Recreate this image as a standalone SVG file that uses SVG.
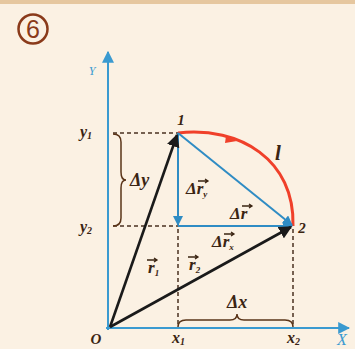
<svg xmlns="http://www.w3.org/2000/svg" width="355" height="349" viewBox="0 0 355 349">
<style>
.lbl{font-family:"Liberation Serif","DejaVu Serif",serif;font-style:italic;font-weight:bold;fill:#3a2412}
.dash{stroke:#4a3020;stroke-width:1.5;stroke-dasharray:4 3;fill:none}
.blue{stroke:#2f8cc4;stroke-width:2;fill:none}
.blk{stroke:#1a1a1a;stroke-width:2.6;fill:none}
.brace{stroke:#5a3418;stroke-width:1.5;fill:none}
.ov{stroke:#3a2412;stroke-width:1.3;fill:none}
</style>
<defs>
<marker id="ab" viewBox="0 0 10 10" refX="9" refY="5" markerWidth="5" markerHeight="5" orient="auto" markerUnits="strokeWidth"><path d="M0,0 L10,5 L0,10 z" fill="#2f8cc4"/></marker>
<marker id="ak" viewBox="0 0 10 10" refX="9" refY="5" markerWidth="5" markerHeight="5" orient="auto" markerUnits="strokeWidth"><path d="M0,0 L10,5 L0,10 z" fill="#1a1a1a"/></marker>
<marker id="ax" viewBox="0 0 10 10" refX="9" refY="5" markerWidth="6" markerHeight="6" orient="auto" markerUnits="strokeWidth"><path d="M0,0 L10,5 L0,10 z" fill="#3a9ad0"/></marker>
</defs>
<rect width="355" height="349" fill="#fbf1e3"/>
<rect width="355" height="4" fill="#e6c79f"/>
<g id="badge">
<circle cx="33" cy="29" r="14.5" fill="none" stroke="#8a3a1a" stroke-width="2.5"/>
<text x="33" y="38" font-family="Liberation Sans,sans-serif" font-size="25" fill="#8a3a1a" text-anchor="middle">6</text>
</g>

<g id="axes">
<line x1="108" y1="330" x2="108" y2="52" stroke="#3a9ad0" stroke-width="2" marker-end="url(#ax)"/>
<line x1="106" y1="328" x2="349" y2="328" stroke="#3a9ad0" stroke-width="2" marker-end="url(#ax)"/>
<text x="92" y="75" font-family="Liberation Serif,serif" font-style="italic" font-size="12" fill="#3a9ad0" text-anchor="middle">Y</text>
<text x="342" y="345" font-family="Liberation Serif,serif" font-style="italic" font-size="16" fill="#3a9ad0" text-anchor="middle">X</text>
<text x="96" y="344" class="lbl" font-size="15" text-anchor="middle" font-style="normal">O</text>
</g>

<g id="guides">
<line x1="113" y1="133" x2="178" y2="133" class="dash"/>
<line x1="113" y1="226" x2="178" y2="226" class="dash"/>
<line x1="178" y1="229" x2="178" y2="327" class="dash"/>
<line x1="293" y1="229" x2="293" y2="327" class="dash"/>
<path d="M113,134 Q121,134 121,142 L121,172 Q121,180 126,180 Q121,180 121,188 L121,218 Q121,226 113,226" class="brace"/>
<path d="M178,327 Q178,320 186,320 L230,320 Q237,320 237,314 Q237,320 244,320 L285,320 Q293,320 293,327" class="brace"/>
</g>

<g id="connectors">
<path d="M178,133 C240,126 295,160 293,226" stroke="#f0402a" stroke-width="3" fill="none"/>
<path d="M226,136 L237,141 L225,143 z" fill="#f0402a"/>
<line x1="178" y1="133" x2="178" y2="225" class="blue" marker-end="url(#ab)"/>
<line x1="178" y1="226" x2="292" y2="226" class="blue" marker-end="url(#ab)"/>
<line x1="178" y1="133" x2="292" y2="225" class="blue" marker-end="url(#ab)"/>
<line x1="110" y1="327" x2="177" y2="135" class="blk" marker-end="url(#ak)"/>
<line x1="110" y1="327" x2="291" y2="227" class="blk" marker-end="url(#ak)"/>
</g>

<g id="point1"><text x="181" y="125" class="lbl" font-size="15" text-anchor="middle">1</text></g>
<g id="point2"><text x="302" y="233" class="lbl" font-size="15" text-anchor="middle">2</text></g>

<g id="labels">
<text x="278" y="160" class="lbl" font-size="21" text-anchor="middle">l</text>
<text x="80" y="137" class="lbl" font-size="16">y<tspan font-size="10" dy="2">1</tspan></text>
<text x="80" y="232" class="lbl" font-size="16">y<tspan font-size="10" dy="2">2</tspan></text>
<text x="172" y="343" class="lbl" font-size="16">x<tspan font-size="10" dy="2">1</tspan></text>
<text x="287" y="343" class="lbl" font-size="16">x<tspan font-size="10" dy="2">2</tspan></text>
<text x="130" y="186" class="lbl" font-size="18" font-style="normal">Δ<tspan font-style="italic">y</tspan></text>
<text x="227" y="308" class="lbl" font-size="18" font-style="normal">Δ<tspan font-style="italic">x</tspan></text>
<text x="186" y="194" class="lbl" font-size="17" font-style="normal">Δ<tspan font-style="italic">r</tspan><tspan font-size="9" dy="3" font-style="italic">y</tspan></text>
<path d="M198,181 L208,181 M205,179 L208,181 L205,183" class="ov"/>
<text x="230" y="219" class="lbl" font-size="17" font-style="normal">Δ<tspan font-style="italic">r</tspan></text>
<path d="M242,206 L252,206 M249,204 L252,206 L249,208" class="ov"/>
<text x="212" y="247" class="lbl" font-size="17" font-style="normal">Δ<tspan font-style="italic">r</tspan><tspan font-size="9" dy="3" font-style="italic">x</tspan></text>
<path d="M224,234 L234,234 M231,232 L234,234 L231,236" class="ov"/>
<text x="148" y="273" class="lbl" font-size="17"><tspan>r</tspan><tspan font-size="9" dy="3">1</tspan></text>
<path d="M147,260 L157,260 M154,258 L157,260 L154,262" class="ov"/>
<text x="189" y="270" class="lbl" font-size="17"><tspan>r</tspan><tspan font-size="9" dy="3">2</tspan></text>
<path d="M188,257 L198,257 M195,255 L198,257 L195,259" class="ov"/>
</g>
</svg>
